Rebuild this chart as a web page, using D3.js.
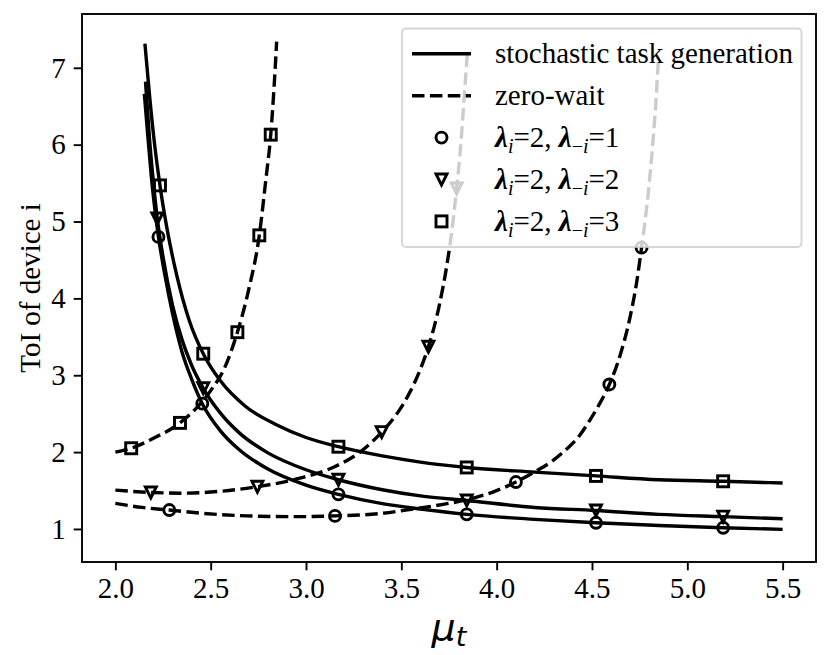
<!DOCTYPE html>
<html>
<head>
<meta charset="utf-8">
<script src="https://cdn.jsdelivr.net/npm/d3@7"></script>
<style>
  body { margin: 0; background: #fff; }
  svg { display: block; }
</style>
</head>
<body>
<div id="chart"></div>
<script>
const X_TICKS = [2.0, 2.5, 3.0, 3.5, 4.0, 4.5, 5.0, 5.5];
const Y_TICKS = [1, 2, 3, 4, 5, 6, 7];

/* stochastic task generation (solid lines), [mu_t, ToI] */
const stochLam1 = [[2.152, 6.66], [2.17, 6.12], [2.19, 5.55], [2.21, 5.10], [2.226, 4.80], [2.26, 4.30],
  [2.30, 3.80], [2.35, 3.30], [2.40, 2.95], [2.456, 2.63], [2.55, 2.28], [2.65, 2.03], [2.80, 1.78],
  [3.00, 1.57], [3.17, 1.45], [3.40, 1.33], [3.60, 1.26], [3.843, 1.19], [4.20, 1.125], [4.521, 1.08],
  [4.85, 1.045], [5.188, 1.015], [5.5, 0.995]];
const stochLam2 = [[2.158, 6.82], [2.18, 6.05], [2.20, 5.50], [2.22, 5.04], [2.25, 4.54], [2.30, 3.91],
  [2.35, 3.46], [2.40, 3.13], [2.461, 2.83], [2.55, 2.51], [2.65, 2.25], [2.80, 1.99], [3.00, 1.77],
  [3.17, 1.64], [3.40, 1.51], [3.60, 1.43], [3.843, 1.37], [4.20, 1.28], [4.521, 1.24], [4.85, 1.19],
  [5.188, 1.16], [5.5, 1.133]];
const stochLam3 = [[2.155, 7.315], [2.18, 6.62], [2.205, 6.02], [2.234, 5.47], [2.27, 4.92], [2.322, 4.30],
  [2.388, 3.71], [2.461, 3.28], [2.55, 2.93], [2.68, 2.60], [2.85, 2.35], [3.00, 2.19], [3.17, 2.07],
  [3.40, 1.95], [3.60, 1.87], [3.843, 1.80], [4.20, 1.74], [4.521, 1.69], [4.85, 1.64], [5.188, 1.62],
  [5.5, 1.597]];

/* zero-wait (dashed lines) */
const zeroLam1 = [[2.0, 1.333], [2.14, 1.28], [2.283, 1.246], [2.45, 1.205], [2.689, 1.17], [2.95, 1.16],
  [3.152, 1.17], [3.388, 1.20], [3.563, 1.26], [3.72, 1.32], [3.843, 1.38], [3.98, 1.48], [4.101, 1.61],
  [4.19, 1.73], [4.29, 1.88], [4.367, 2.04], [4.43, 2.20], [4.49, 2.42], [4.54, 2.63], [4.591, 2.88],
  [4.65, 3.28], [4.70, 3.76], [4.735, 4.22], [4.76, 4.66], [4.79, 5.25], [4.815, 5.90], [4.835, 6.55],
  [4.848, 7.10]];
const zeroLam2 = [[2.0, 1.505], [2.186, 1.475], [2.35, 1.465], [2.55, 1.49], [2.745, 1.55], [2.968, 1.66],
  [3.15, 1.81], [3.283, 2.00], [3.397, 2.26], [3.48, 2.51], [3.545, 2.78], [3.60, 3.08], [3.642, 3.37],
  [3.70, 3.92], [3.738, 4.42], [3.765, 4.88], [3.79, 5.43], [3.815, 6.10], [3.832, 6.70], [3.846, 7.18]];
const zeroLam3 = [[2.0, 2.00], [2.083, 2.05], [2.2, 2.18], [2.339, 2.38], [2.42, 2.56], [2.5, 2.80],
  [2.57, 3.08], [2.64, 3.56], [2.70, 4.12], [2.755, 4.82], [2.79, 5.56], [2.815, 6.13], [2.832, 6.73],
  [2.846, 7.34]];

/* marker positions */
const stochMarks1 = [[2.226, 4.80], [2.456, 2.63], [3.17, 1.45], [3.843, 1.19], [4.521, 1.08], [5.188, 1.015]];
const stochMarks2 = [[2.22, 5.04], [2.461, 2.83], [3.17, 1.64], [3.843, 1.37], [4.521, 1.24], [5.188, 1.16]];
const stochMarks3 = [[2.234, 5.47], [2.461, 3.28], [3.17, 2.07], [3.843, 1.80], [4.521, 1.69], [5.188, 1.62]];
const zeroMarks1 = [[2.283, 1.246], [3.152, 1.17], [4.101, 1.61], [4.591, 2.88], [4.76, 4.66]];
const zeroMarks2 = [[2.186, 1.475], [2.745, 1.55], [3.397, 2.26], [3.642, 3.37], [3.79, 5.43]];
const zeroMarks3 = [[2.083, 2.05], [2.339, 2.38], [2.64, 3.56], [2.755, 4.82], [2.815, 6.13]];

const lambdaOthers = [1, 2, 3];

const W = 831, H = 655;
const plot = { left: 82, right: 816, top: 14, bottom: 562 };
const SERIF = "'Liberation Serif', 'Times New Roman', serif";
const FS = 29;

const svg = d3.select("#chart").append("svg")
  .attr("width", W).attr("height", H);

const x = d3.scaleLinear().domain([1.825, 5.675]).range([plot.left, plot.right]);
const y = d3.scaleLinear().domain([0.57, 7.70]).range([plot.bottom, plot.top]);

const line = d3.line()
  .x(d => x(d[0])).y(d => y(d[1]))
  .curve(d3.curveMonotoneX);

const LW = 3.4;
const DASH = "12.5,5.4";
const series = [
  { data: stochLam1, dash: null }, { data: stochLam2, dash: null }, { data: stochLam3, dash: null },
  { data: zeroLam1, dash: DASH }, { data: zeroLam2, dash: DASH }, { data: zeroLam3, dash: DASH }
];

series.forEach(s => {
  svg.append("path")
    .attr("d", line(s.data))
    .attr("fill", "none")
    .attr("stroke", "#000")
    .attr("stroke-width", LW)
    .attr("stroke-dasharray", s.dash)
    .attr("stroke-linecap", "butt");
});

/* hollow markers, like matplotlib fillstyle none */
const MS = 11;
function drawMarker(g, kind, cx, cy) {
  if (kind === "o") {
    g.append("circle").attr("cx", cx).attr("cy", cy).attr("r", MS / 2);
  } else if (kind === "v") {
    const h = MS / 2;
    g.append("path").attr("d", `M${cx - h},${cy - h}L${cx + h},${cy - h}L${cx},${cy + h}Z`);
  } else {
    g.append("rect").attr("x", cx - MS / 2).attr("y", cy - MS / 2).attr("width", MS).attr("height", MS);
  }
}

const MEW = 2.9;
const markerGroup = svg.append("g")
  .attr("fill", "none").attr("stroke", "#000").attr("stroke-width", MEW)
  .attr("stroke-linejoin", "miter");

[[stochMarks1, "o"], [stochMarks2, "v"], [stochMarks3, "s"],
 [zeroMarks1, "o"], [zeroMarks2, "v"], [zeroMarks3, "s"]].forEach(([pts, kind]) => {
  pts.forEach(p => drawMarker(markerGroup, kind, x(p[0]), y(p[1])));
});

// axes
const TICK = 8.3;
const xAxis = svg.append("g")
  .attr("transform", `translate(0,${plot.bottom})`)
  .call(d3.axisBottom(x).tickValues(X_TICKS).tickFormat(d3.format(".1f"))
    .tickSize(TICK).tickPadding(7).tickSizeOuter(0));
const yAxis = svg.append("g")
  .attr("transform", `translate(${plot.left},0)`)
  .call(d3.axisLeft(y).tickValues(Y_TICKS).tickFormat(d3.format("d"))
    .tickSize(TICK).tickPadding(8).tickSizeOuter(0));

[xAxis, yAxis].forEach(a => {
  a.select(".domain").remove();
  a.attr("font-family", SERIF).attr("font-size", FS);
  a.selectAll("line").attr("stroke", "#000").attr("stroke-width", 1.9);
  a.selectAll("text").attr("fill", "#000");
});

// legend (semi transparent like matplotlib)
const leg = { x: 402, y: 28.5, w: 399.5, h: 218.5 };
const legend = svg.append("g");
legend.append("rect")
  .attr("x", leg.x).attr("y", leg.y).attr("width", leg.w).attr("height", leg.h)
  .attr("rx", 4).attr("ry", 4)
  .attr("fill", "#fff").attr("fill-opacity", 0.8)
  .attr("stroke", "#ccc").attr("stroke-opacity", 0.8).attr("stroke-width", 1.9);

const rowY = [53.8, 95.7, 137.6, 179.5, 221.4];
const handleX0 = 412, handleX1 = 471, textX = 495;

legend.append("line")
  .attr("x1", handleX0).attr("x2", handleX1).attr("y1", rowY[0]).attr("y2", rowY[0])
  .attr("stroke", "#000").attr("stroke-width", LW);
legend.append("line")
  .attr("x1", handleX0).attr("x2", handleX1).attr("y1", rowY[1]).attr("y2", rowY[1])
  .attr("stroke", "#000").attr("stroke-width", LW).attr("stroke-dasharray", DASH);

const legMarks = legend.append("g")
  .attr("fill", "none").attr("stroke", "#000").attr("stroke-width", MEW);
["o", "v", "s"].forEach((k, i) => drawMarker(legMarks, k, (handleX0 + handleX1) / 2, rowY[i + 2]));

const legText = legend.append("g")
  .attr("font-family", SERIF).attr("font-size", FS).attr("fill", "#000");
legText.append("text").attr("x", textX).attr("y", rowY[0] + 9.5).text("stochastic task generation");
legText.append("text").attr("x", textX).attr("y", rowY[1] + 9.5).text("zero-wait");

lambdaOthers.forEach((lam, i) => {
  const t = legText.append("text").attr("x", textX).attr("y", rowY[i + 2] + 9.5);
  t.append("tspan").attr("font-style", "italic").attr("font-weight", "bold").text("λ");
  t.append("tspan").attr("font-style", "italic").attr("font-size", 20).attr("dy", 6).text("i");
  t.append("tspan").attr("dy", -6).text("=2, ");
  t.append("tspan").attr("font-style", "italic").attr("font-weight", "bold").text("λ");
  t.append("tspan").attr("font-size", 20).attr("dy", 6).text("−");
  t.append("tspan").attr("font-style", "italic").attr("font-size", 20).text("i");
  t.append("tspan").attr("dy", -6).text("=" + lam);
});

// frame
svg.append("rect")
  .attr("x", plot.left).attr("y", plot.top)
  .attr("width", plot.right - plot.left).attr("height", plot.bottom - plot.top)
  .attr("fill", "none").attr("stroke", "#000").attr("stroke-width", 1.9);

// axis labels
const xl = svg.append("text")
  .attr("x", (plot.left + plot.right) / 2).attr("y", 640)
  .attr("text-anchor", "middle")
  .attr("font-family", "'DejaVu Sans', sans-serif").attr("font-size", 38);
xl.append("tspan").attr("font-style", "italic").text("μ");
xl.append("tspan").attr("font-style", "italic").attr("font-size", 27).attr("dy", 6).text("t");

svg.append("text")
  .attr("transform", `translate(40,${(plot.top + plot.bottom) / 2}) rotate(-90)`)
  .attr("text-anchor", "middle")
  .attr("font-family", SERIF).attr("font-size", FS)
  .text("ToI of device i");
</script>
</body>
</html>
